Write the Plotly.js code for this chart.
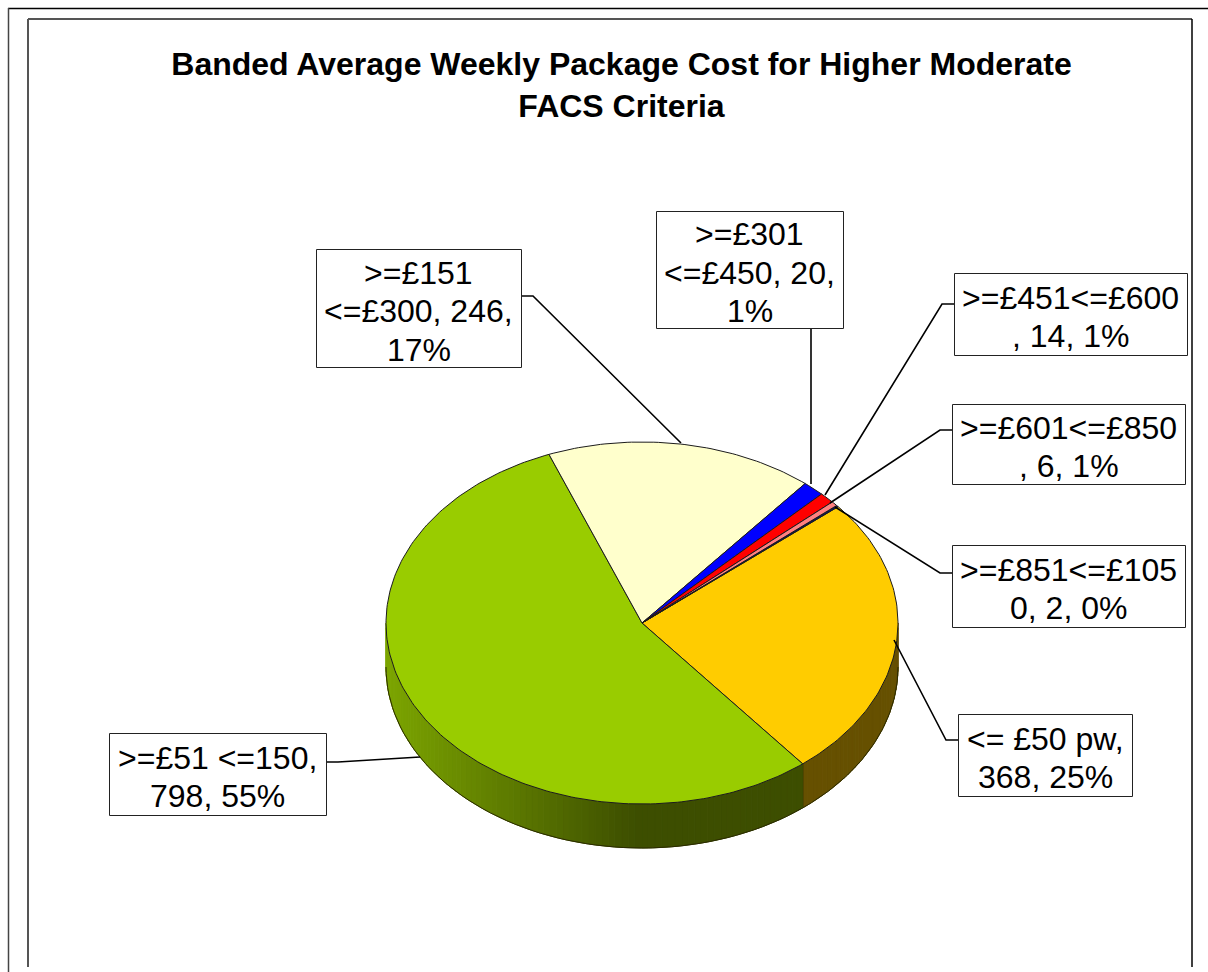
<!DOCTYPE html>
<html><head><meta charset="utf-8">
<script src="https://cdn.plot.ly/plotly-3.0.0.min.js"></script>
<style>html,body{margin:0;padding:0;background:#fff;overflow:hidden}</style>
</head><body><div id="chart" style="width:1208px;height:972px"></div>
<script>
// ---- data ----
const categories = ["<= £50 pw", ">=£51 <=150", ">=£151 <=£300", ">=£301 <=£450", ">=£451<=£600", ">=£601<=£850", ">=£851<=£1050"];
const values = [368, 798, 246, 20, 14, 6, 2];
const labelLines = [
  ["&lt;= £50 pw,", "368, 25%"],
  ["&gt;=£51 &lt;=150,", "798, 55%"],
  ["&gt;=£151", "&lt;=£300, 246,", "17%"],
  ["&gt;=£301", "&lt;=£450, 20,", "1%"],
  ["&gt;=£451&lt;=£600", ", 14, 1%"],
  ["&gt;=£601&lt;=£850", ", 6, 1%"],
  ["&gt;=£851&lt;=£105", "0, 2, 0%"]
];
const titleText = "<b>Banded Average Weekly Package Cost for Higher Moderate<br>FACS Criteria</b>";

// ---- styles / geometry ----
const sliceColors = ["#FFCC00", "#99CC00", "#FFFFCC", "#0000FF", "#FF0000", "#FF8080", "#000080"];
const cx = 642, cy = 623, rx = 256, ry = 181, depth = 44, startAngle = 50;
const labelBoxes = [ // left, right, top, bottom
  [958, 1132, 714, 796],
  [109, 326, 733, 815],
  [316, 521, 249, 367],
  [656, 843, 211, 328],
  [954, 1187, 273, 355],
  [952, 1185, 404, 484],
  [952, 1185, 545, 627]
];
const leaderX = [
  [958, 946, 894], [326, 338, 420], [521, 533, 681], [811, 811],
  [954, 942, 825], [952, 940, 830], [952, 940, 835]
];
const leaderY = [
  [740, 740, 640], [762, 762, 757], [296, 296, 443], [328, 484],
  [304, 304, 495], [430, 430, 503], [573, 573, 507]
];
const fontFamily = "Liberation Sans, Arial, sans-serif";
const labelSize = 32, titleSize = 32, linePitch = 38.5, textShift = 3;

const rad = d => d * Math.PI / 180;
const px = a => cx + rx * Math.sin(rad(a));
const py = a => cy - ry * Math.cos(rad(a));
const total = values.reduce((s, v) => s + v, 0);

// slice angle ranges from the values
const ranges = [];
let acc = startAngle;
values.forEach(v => { const a0 = acc; acc += v / total * 360; ranges.push([a0, acc]); });

const traces = [];
function mix(a, b, t) { return a.map((c, i) => Math.round(c + (b[i] - c) * t)); }

// side wall: visible between 90 and 270 degrees
function wallShade(i, x) {
  if (i === 0) return [102, 80, 0];
  const t = Math.min(1, Math.max(0, (x - 386) / 250));
  return mix([124, 165, 0], [61, 78, 0], t);
}
ranges.forEach((r, i) => {
  const a0 = Math.max(r[0], 90), a1 = Math.min(r[1], 270);
  if (a1 <= a0) return;
  const steps = Math.ceil((a1 - a0) / 1.5);
  for (let k = 0; k < steps; k++) {
    const s0 = a0 + (a1 - a0) * k / steps, s1 = a0 + (a1 - a0) * (k + 1) / steps;
    const c = wallShade(i, (px(s0) + px(s1)) / 2);
    const col = "rgb(" + c.join(",") + ")";
    traces.push({
      type: "scatter", mode: "lines", fill: "toself", fillcolor: col,
      x: [px(s0), px(s1), px(s1), px(s0), px(s0)],
      y: [py(s0), py(s1), py(s1) + depth, py(s0) + depth, py(s0)],
      line: { color: col, width: 1 }, hoverinfo: "skip", showlegend: false
    });
  }
  // outline of the wall
  const ex = [], ey = [];
  for (let a = a0; a <= a1 + 1e-6; a += (a1 - a0) / 60) { ex.push(px(a)); ey.push(py(a) + depth); }
  traces.push({ type: "scatter", mode: "lines", x: ex, y: ey, line: { color: "#2a2a00", width: 1 }, hoverinfo: "skip", showlegend: false });
  if (r[1] < 270) traces.push({ type: "scatter", mode: "lines", x: [px(a1), px(a1)], y: [py(a1), py(a1) + depth], line: { color: "#1a1a00", width: 1 }, hoverinfo: "skip", showlegend: false });
});

// top face
ranges.forEach((r, i) => {
  const xs = [cx], ys = [cy];
  const n = Math.max(4, Math.ceil((r[1] - r[0]) / 1));
  for (let k = 0; k <= n; k++) { const a = r[0] + (r[1] - r[0]) * k / n; xs.push(px(a)); ys.push(py(a)); }
  xs.push(cx); ys.push(cy);
  traces.push({
    type: "scatter", mode: "lines", fill: "toself", fillcolor: sliceColors[i], x: xs, y: ys,
    line: { color: "#1c1c1c", width: 1 }, name: categories[i], text: categories[i] + ": " + values[i],
    hoverinfo: "text", showlegend: false
  });
});

// leader lines
leaderX.forEach((lx, i) => traces.push({
  type: "scatter", mode: "lines", x: lx, y: leaderY[i], line: { color: "#000", width: 1.6 }, hoverinfo: "skip", showlegend: false
}));

// label boxes and their text, one annotation per line for the original line pitch
const boxShapes = labelBoxes.map(b => ({
  type: "rect", xref: "x", yref: "y", x0: b[0] + 0.5, x1: b[1] + 0.5, y0: b[2] + 0.5, y1: b[3] + 0.5,
  fillcolor: "#fff", line: { color: "#222", width: 1 }, layer: "above"
}));
const annotations = [];
labelBoxes.forEach((b, i) => {
  const n = labelLines[i].length;
  labelLines[i].forEach((t, k) => annotations.push({
    xref: "x", yref: "y", x: (b[0] + b[1]) / 2, y: (b[2] + b[3]) / 2 + textShift + (k - (n - 1) / 2) * linePitch,
    xanchor: "center", yanchor: "middle", showarrow: false, align: "center", text: t,
    font: { family: fontFamily, size: labelSize, color: "#000" }
  }));
});

const frame = (x0, y0, x1, y1, c, w) => ({ type: "line", xref: "x", yref: "y", x0, y0, x1, y1, line: { color: c, width: w }, layer: "below" });

const layout = {
  width: 1208, height: 972, margin: { l: 0, r: 0, t: 0, b: 0 },
  paper_bgcolor: "#fff", plot_bgcolor: "#fff", showlegend: false,
  title: { text: titleText, x: 621.5 / 1208, xanchor: "center", y: 1 - 75 / 972, yanchor: "middle", font: { family: fontFamily, size: titleSize, color: "#000" } },
  xaxis: { range: [0, 1208], visible: false, fixedrange: true },
  yaxis: { range: [972, 0], visible: false, fixedrange: true },
  shapes: [
    frame(8, 8.5, 1208, 8.5, "#000", 1.5),
    frame(8.5, 8, 8.5, 972, "#444", 1.5),
    frame(28, 19, 1192, 19, "#555", 2),
    frame(28, 19, 28, 967, "#555", 2),
    frame(1192, 19, 1192, 967, "#000", 1.5)
  ].concat(boxShapes),
  annotations
};
Plotly.newPlot("chart", traces, layout, { displayModeBar: false });
</script></body></html>
